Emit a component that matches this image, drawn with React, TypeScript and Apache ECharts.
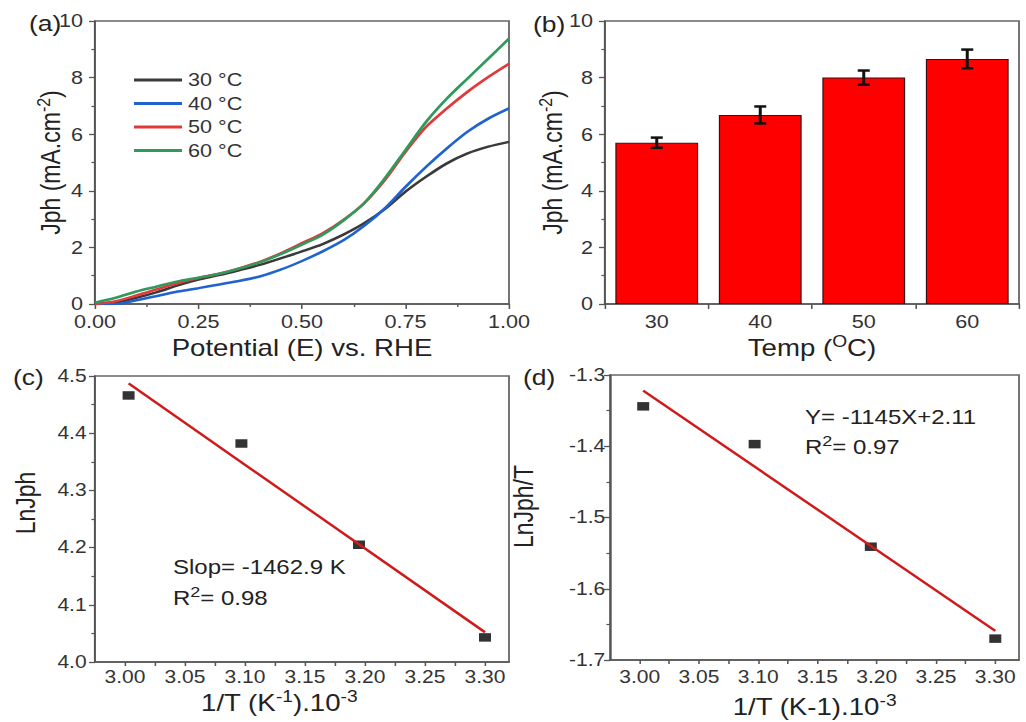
import React, { useEffect, useRef } from 'react';
import * as echarts from 'echarts';

// ---------- data ----------
const potentialE = [0, 0.05, 0.1, 0.15, 0.2, 0.25, 0.3, 0.35, 0.4, 0.45, 0.5, 0.55, 0.6, 0.65, 0.7, 0.75, 0.8, 0.85, 0.9, 0.95, 1.0];
const j30 = [0, 0.05, 0.22, 0.42, 0.66, 0.86, 1.02, 1.2, 1.39, 1.62, 1.86, 2.12, 2.45, 2.85, 3.35, 3.97, 4.5, 4.97, 5.32, 5.56, 5.73];
const j40 = [0, 0, 0.13, 0.28, 0.44, 0.56, 0.69, 0.82, 0.98, 1.22, 1.52, 1.86, 2.25, 2.76, 3.38, 4.14, 4.85, 5.5, 6.09, 6.55, 6.91];
const j50 = [0, 0.1, 0.3, 0.52, 0.74, 0.92, 1.07, 1.27, 1.5, 1.8, 2.15, 2.5, 2.97, 3.56, 4.38, 5.38, 6.26, 6.91, 7.5, 8.02, 8.49];
const j60 = [0.05, 0.22, 0.44, 0.62, 0.8, 0.93, 1.07, 1.26, 1.48, 1.77, 2.1, 2.45, 2.95, 3.56, 4.44, 5.44, 6.44, 7.26, 7.97, 8.67, 9.38];
const curveNames = ['30 °C', '40 °C', '50 °C', '60 °C'];
const curveColors = ['#3a3a3a', '#1f62d0', '#e03a3a', '#2f9a5c'];

const tempCategories = ['30', '40', '50', '60'];
const jphMean = [5.7, 6.68, 8.0, 8.66];
const jphErr = [0.18, 0.3, 0.25, 0.33];

const invT = [3.003, 3.097, 3.195, 3.3];
const lnJph = [4.466, 4.382, 4.205, 4.043];
const lnJphT = [-1.344, -1.397, -1.541, -1.67];
const fitX = [3.003, 3.3];
const fitLnJph = [4.487, 4.052];
const fitLnJphT = [-1.322, -1.659];
const invTTickLabels = [3.0, 3.05, 3.1, 3.15, 3.2, 3.25, 3.3];

// ---------- layout ----------
const S = 1.2; // horizontal stretch of the original figure
const W = 1026 / S;
const H = 722;
const X = (v: number) => v / S;
const FONT = '"Liberation Sans", Arial, Helvetica, sans-serif';

const invTTicks: number[] = [];
invTTickLabels.forEach((v, i) => {
  invTTicks.push(v);
  if (i < invTTickLabels.length - 1) invTTicks.push(+((v + invTTickLabels[i + 1]) / 2).toFixed(4));
});

const axisLine = { show: true, lineStyle: { color: '#555', width: 1.5 } };
const tick = { show: true, length: 5, lineStyle: { color: '#555', width: 1.3 } };
const minor = { show: true, splitNumber: 2, length: 3, lineStyle: { color: '#555', width: 1.2 } };
const supRich = { sup: { fontSize: 16, lineHeight: 14, verticalAlign: 'top', fontFamily: FONT, color: '#222' } };
const nameStyle = (size: number, padding?: number[]) => ({
  fontSize: size,
  fontFamily: FONT,
  color: '#222',
  lineHeight: 28,
  rich: supRich,
  padding: padding || [0, 0, 0, 0],
});
const labelStyle = (size: number, margin: number, fmt: (v: number) => string, extra: any = {}) => ({
  fontSize: size,
  fontFamily: FONT,
  color: '#333',
  margin,
  formatter: fmt,
  ...extra,
});

function buildOption(): any {
  const curves = [j30, j40, j50, j60].map((arr, k) => ({
    type: 'line',
    name: curveNames[k],
    xAxisIndex: 0,
    yAxisIndex: 0,
    data: potentialE.map((e, i) => [e, arr[i]]),
    smooth: 0.3,
    showSymbol: false,
    symbol: 'none',
    lineStyle: { color: curveColors[k], width: 2.5 },
    itemStyle: { color: curveColors[k] },
    z: 3 + k,
  }));

  return {
    animation: false,
    backgroundColor: '#ffffff',
    textStyle: { fontFamily: FONT },
    grid: [
      { left: X(95), top: 21, width: X(414), height: 283, show: true, borderColor: '#666', borderWidth: 1.5 },
      { left: X(605), top: 21, width: X(414), height: 283, show: true, borderColor: '#666', borderWidth: 1.5 },
      { left: X(95), top: 376, width: X(414), height: 286, show: true, borderColor: '#666', borderWidth: 1.5 },
      { left: X(610), top: 375, width: X(409), height: 286, show: true, borderColor: '#666', borderWidth: 1.5 },
    ],
    legend: {
      data: curveNames,
      orient: 'vertical',
      left: X(134),
      top: 71,
      padding: 0,
      icon: 'rect',
      itemWidth: X(48),
      itemHeight: 3,
      itemGap: 5.5,
      textStyle: { fontSize: 18, color: '#333', fontFamily: FONT, lineHeight: 18 },
    },
    xAxis: [
      {
        type: 'value', gridIndex: 0, min: 0, max: 1, interval: 0.25,
        axisLine, axisTick: tick, minorTick: minor, splitLine: { show: false },
        axisLabel: labelStyle(18, 9, (v) => v.toFixed(2)),
        name: 'Potential (E) vs. RHE', nameLocation: 'middle', nameGap: 30, nameMoveOverlap: false,
        nameTextStyle: nameStyle(23),
      },
      {
        type: 'category', gridIndex: 1, data: tempCategories,
        axisLine, axisTick: tick, splitLine: { show: false },
        axisLabel: { fontSize: 18, fontFamily: FONT, color: '#333', margin: 9 },
        name: 'Temp ({sup|O}C)', nameLocation: 'middle', nameGap: 30, nameMoveOverlap: false,
        nameTextStyle: nameStyle(23),
      },
      {
        type: 'value', gridIndex: 2, min: 2.975, max: 3.32,
        axisLine, splitLine: { show: false },
        axisTick: { ...tick, length: 4, customValues: invTTicks },
        axisLabel: labelStyle(17.5, 6, (v) => v.toFixed(2), { customValues: invTTickLabels }),
        name: '1/T (K{sup|-1}).10{sup|-3}', nameLocation: 'middle', nameGap: 27, nameMoveOverlap: false,
        nameTextStyle: nameStyle(23, [0, 38, 0, 0]),
      },
      {
        type: 'value', gridIndex: 3, min: 2.975, max: 3.32,
        axisLine, splitLine: { show: false },
        axisTick: { ...tick, length: 4, customValues: invTTicks },
        axisLabel: labelStyle(17.5, 8, (v) => v.toFixed(2), { customValues: invTTickLabels }),
        name: '1/T (K-1).10{sup|-3}', nameLocation: 'middle', nameGap: 33, nameMoveOverlap: false,
        nameTextStyle: nameStyle(23),
      },
    ],
    yAxis: [
      {
        type: 'value', gridIndex: 0, min: 0, max: 10, interval: 2,
        axisLine, axisTick: tick, minorTick: minor, splitLine: { show: false },
        axisLabel: labelStyle(18, 10, (v) => String(v)),
        name: 'Jph (mA.cm{sup|-2})', nameLocation: 'middle', nameGap: 23, nameMoveOverlap: false,
        nameTextStyle: nameStyle(23),
      },
      {
        type: 'value', gridIndex: 1, min: 0, max: 10, interval: 2,
        axisLine, axisTick: tick, minorTick: minor, splitLine: { show: false },
        axisLabel: labelStyle(18, 10, (v) => String(v)),
        name: 'Jph (mA.cm{sup|-2})', nameLocation: 'middle', nameGap: 30, nameMoveOverlap: false,
        nameTextStyle: nameStyle(23),
      },
      {
        type: 'value', gridIndex: 2, min: 4.0, max: 4.5, interval: 0.1,
        axisLine, axisTick: tick, minorTick: minor, splitLine: { show: false },
        axisLabel: labelStyle(17.5, 7, (v) => v.toFixed(1)),
        name: 'LnJph', nameLocation: 'middle', nameGap: 44, nameMoveOverlap: false,
        nameTextStyle: nameStyle(23, [0, 0, 0, 32]),
      },
      {
        type: 'value', gridIndex: 3, min: -1.7, max: -1.3, interval: 0.1,
        axisLine, axisTick: tick, minorTick: minor, splitLine: { show: false },
        axisLabel: labelStyle(17.5, 4, (v) => v.toFixed(1)),
        name: 'LnJph/T', nameLocation: 'middle', nameGap: 58, nameMoveOverlap: false,
        nameTextStyle: nameStyle(23, [0, 0, 0, 22]),
      },
    ],
    series: [
      ...curves,
      {
        type: 'bar',
        name: 'Jph',
        xAxisIndex: 1,
        yAxisIndex: 1,
        data: jphMean,
        barCategoryGap: '20%',
        itemStyle: { color: '#ff0000', borderColor: '#3a1010', borderWidth: 1 },
        z: 2,
      },
      {
        type: 'custom',
        name: 'error',
        xAxisIndex: 1,
        yAxisIndex: 1,
        data: jphMean.map((m, i) => [i, m - jphErr[i], m + jphErr[i]]),
        encode: { x: 0, y: [1, 2] },
        z: 5,
        renderItem: (params: any, api: any) => {
          const idx = api.value(0);
          const lo = api.coord([idx, api.value(1)]);
          const hi = api.coord([idx, api.value(2)]);
          const hw = 5;
          const style = { stroke: '#111', lineWidth: 2.5 };
          return {
            type: 'group',
            children: [
              { type: 'line', shape: { x1: lo[0], y1: lo[1], x2: hi[0], y2: hi[1] }, style },
              { type: 'line', shape: { x1: lo[0] - hw, y1: lo[1], x2: lo[0] + hw, y2: lo[1] }, style },
              { type: 'line', shape: { x1: hi[0] - hw, y1: hi[1], x2: hi[0] + hw, y2: hi[1] }, style },
            ],
          };
        },
      },
      {
        type: 'scatter',
        name: 'LnJph',
        xAxisIndex: 2,
        yAxisIndex: 2,
        data: invT.map((x, i) => [x, lnJph[i]]),
        symbol: 'rect',
        symbolSize: [10, 8.5],
        itemStyle: { color: '#000' },
        z: 2,
      },
      {
        type: 'line',
        name: 'fit c',
        xAxisIndex: 2,
        yAxisIndex: 2,
        data: fitX.map((x, i) => [x, fitLnJph[i]]),
        symbol: 'none',
        lineStyle: { color: '#d01a1a', width: 2.3 },
        z: 4,
      },
      {
        type: 'scatter',
        name: 'LnJph/T',
        xAxisIndex: 3,
        yAxisIndex: 3,
        data: invT.map((x, i) => [x, lnJphT[i]]),
        symbol: 'rect',
        symbolSize: [10, 8.5],
        itemStyle: { color: '#000' },
        z: 2,
      },
      {
        type: 'line',
        name: 'fit d',
        xAxisIndex: 3,
        yAxisIndex: 3,
        data: fitX.map((x, i) => [x, fitLnJphT[i]]),
        symbol: 'none',
        lineStyle: { color: '#d01a1a', width: 2.3 },
        z: 4,
      },
    ],
    graphic: [
      { type: 'text', left: X(29), top: 12, style: { text: '(a)', fontSize: 22, fontFamily: FONT, fill: '#222' } },
      { type: 'text', left: X(533), top: 13, style: { text: '(b)', fontSize: 22, fontFamily: FONT, fill: '#222' } },
      { type: 'text', left: X(13), top: 366, style: { text: '(c)', fontSize: 22, fontFamily: FONT, fill: '#222' } },
      { type: 'text', left: X(523), top: 366, style: { text: '(d)', fontSize: 22, fontFamily: FONT, fill: '#222' } },
      { type: 'text', left: X(173), top: 557, style: { text: 'Slop= -1462.9 K', fontSize: 20, fontFamily: FONT, fill: '#222' } },
      {
        type: 'text', left: X(173), top: 585,
        style: { text: 'R{sup|2}= 0.98', fontSize: 20, fontFamily: FONT, fill: '#222', lineHeight: 26, rich: { sup: { fontSize: 15, lineHeight: 12, verticalAlign: 'top', fontFamily: FONT, fill: '#222' } } },
      },
      { type: 'text', left: X(805), top: 407, style: { text: 'Y= -1145X+2.11', fontSize: 20, fontFamily: FONT, fill: '#222' } },
      {
        type: 'text', left: X(805), top: 434,
        style: { text: 'R{sup|2}= 0.97', fontSize: 20, fontFamily: FONT, fill: '#222', lineHeight: 26, rich: { sup: { fontSize: 15, lineHeight: 12, verticalAlign: 'top', fontFamily: FONT, fill: '#222' } } },
      },
    ],
  };
}

export default function App() {
  const ref = useRef<HTMLDivElement>(null);
  useEffect(() => {
    document.body.style.margin = '0';
    if (!ref.current) return;
    const chart = echarts.init(ref.current, null, { renderer: 'svg', width: W, height: H });
    chart.setOption(buildOption());
    return () => chart.dispose();
  }, []);
  return (
    <div
      ref={ref}
      style={{
        position: 'absolute',
        left: 0,
        top: 0,
        width: W,
        height: H,
        transform: `scaleX(${S})`,
        transformOrigin: '0 0',
        background: '#fff',
      }}
    />
  );
}
